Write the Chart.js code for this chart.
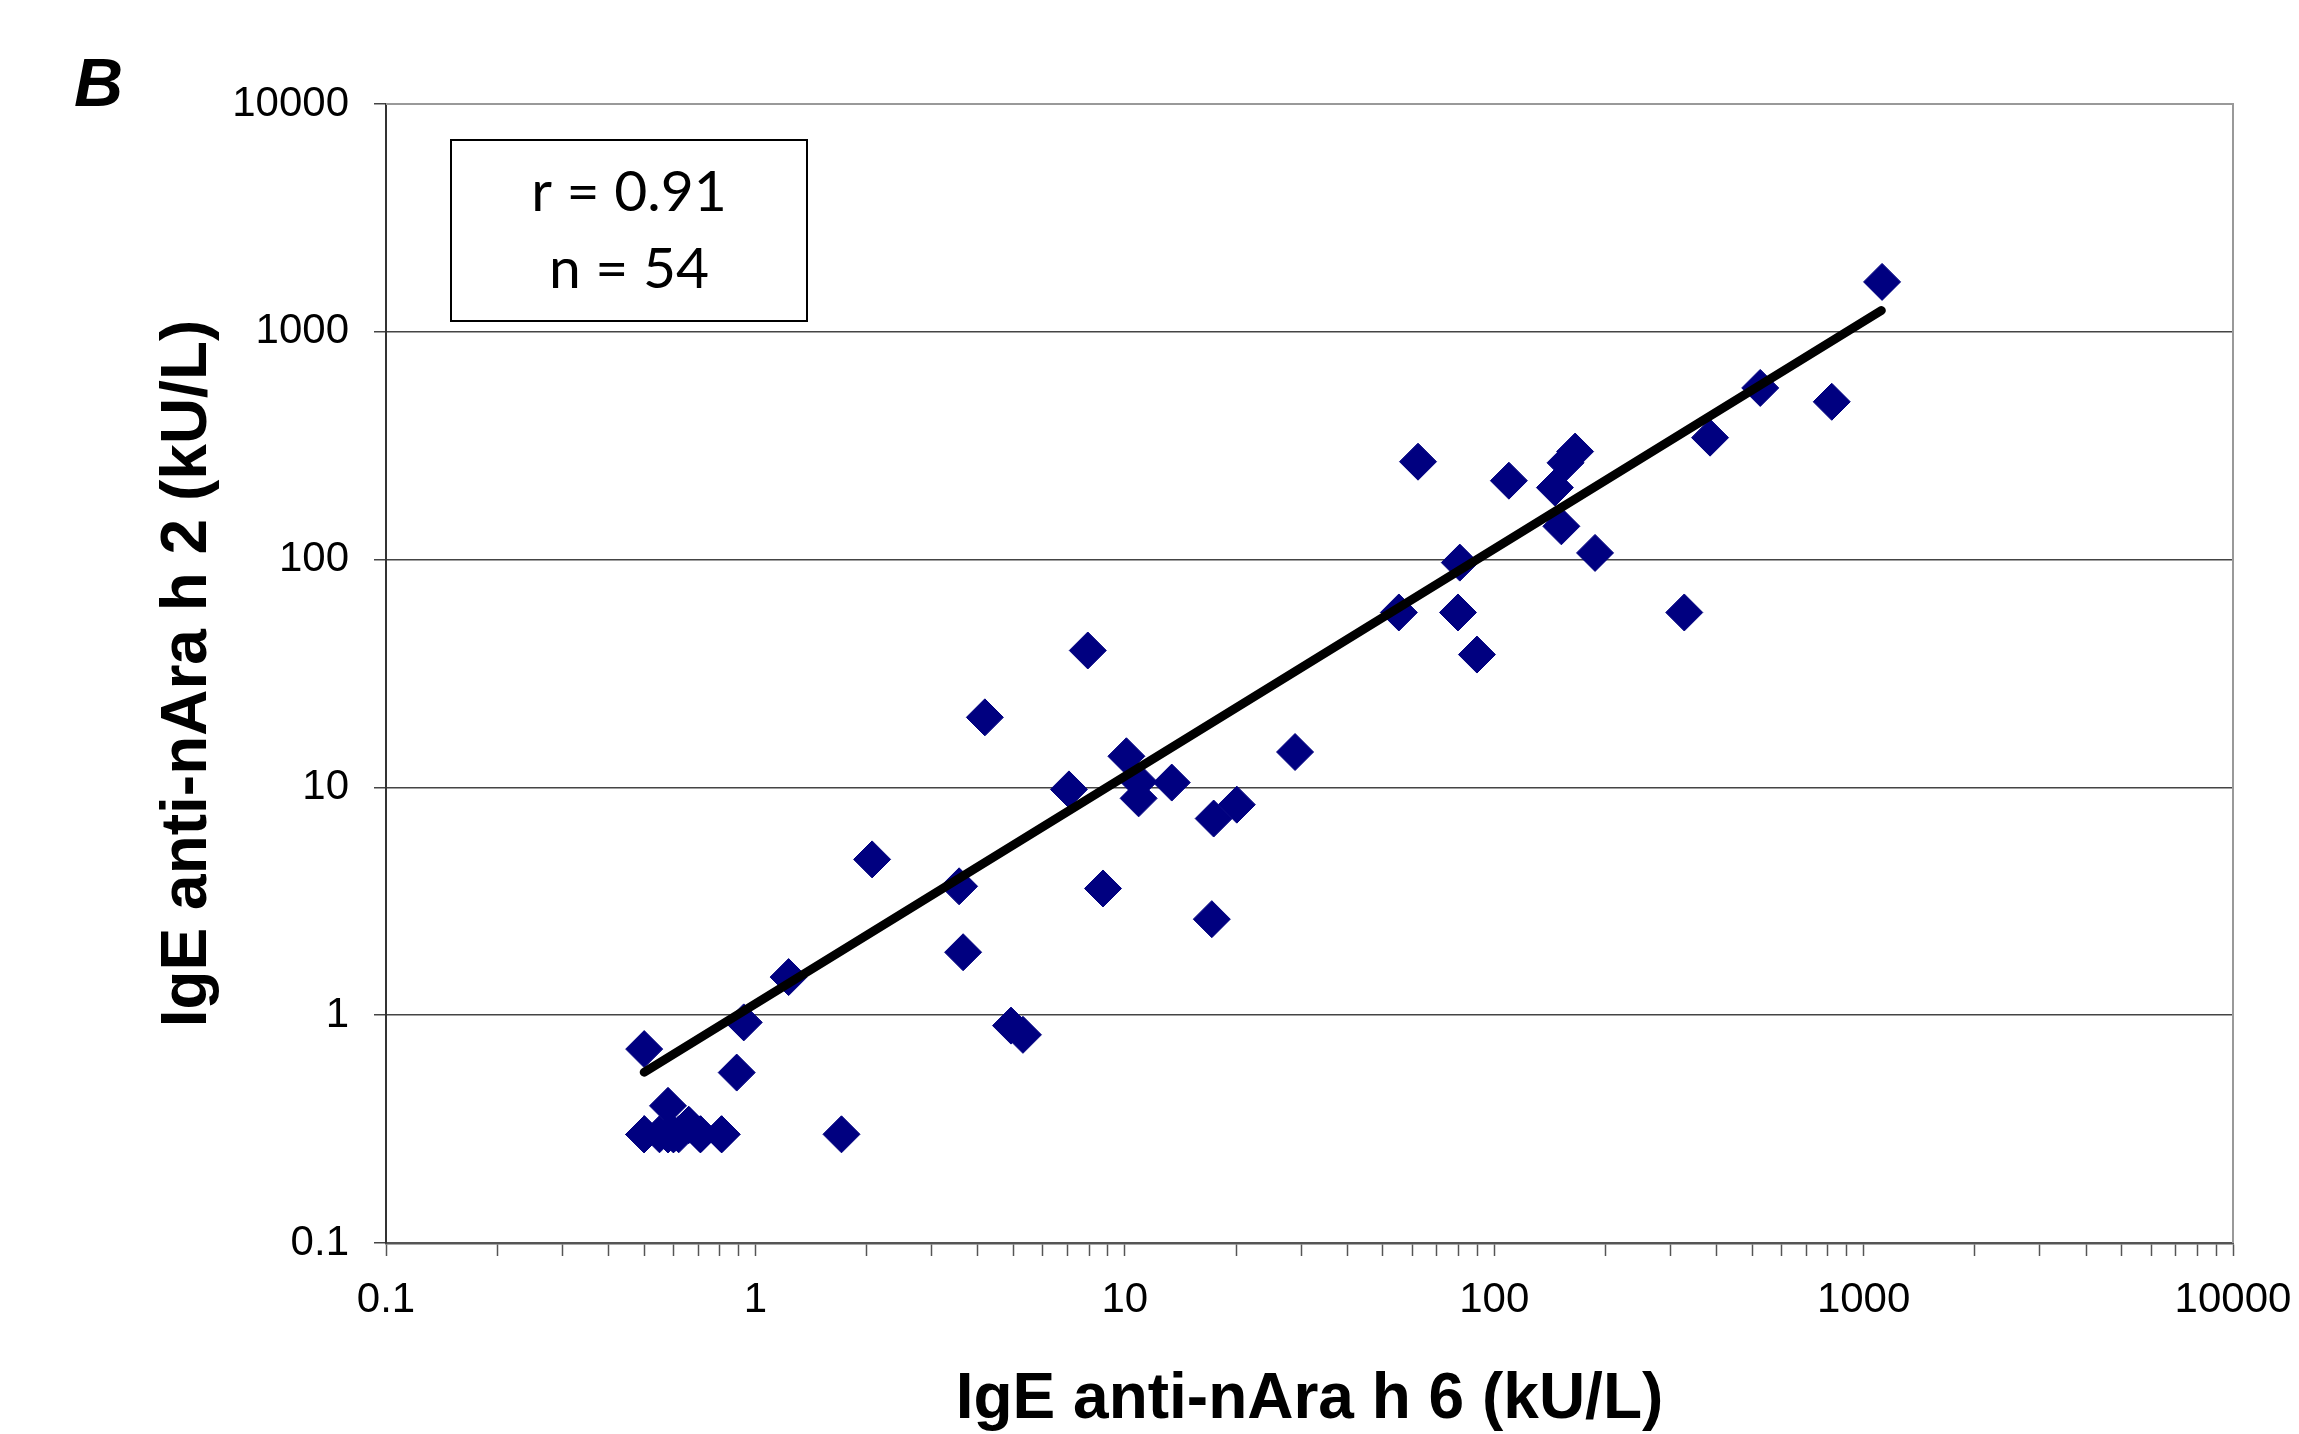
<!DOCTYPE html>
<html>
<head>
<meta charset="utf-8">
<title>IgE anti-nAra h 2 vs anti-nAra h 6</title>
<script src="https://cdn.jsdelivr.net/npm/chart.js@4/dist/chart.umd.min.js"></script>
<style>
  body { margin: 0; background: #fff; }
  canvas { display: block; }
</style>
</head>
<body>
<canvas id="myChart" width="2299" height="1434"></canvas>
<script>
// IgE anti-nAra h 6 (x) against IgE anti-nAra h 2 (y), kU/L
var h6Values = [0.50, 0.89, 0.58, 0.50, 0.58, 0.60, 0.66, 0.71, 0.81, 1.71,
                0.93, 1.23, 4.92, 5.3, 3.65, 2.07, 3.56, 8.73, 17.2, 4.18,
                7.94, 7.06, 10.1, 10.9, 10.9, 13.4, 17.4, 20.1, 28.9, 55.2,
                79.8, 89.8, 80.7, 62.2, 109.6, 165.6, 156, 146, 152, 187.5,
                327, 384, 525, 820, 1122,
                // hidden under the 0.3 cluster
                0.50, 0.58, 0.60, 0.66, 0.71, 0.55, 0.62, 0.50, 0.81];
var h2Values = [0.71, 0.56, 0.40, 0.30, 0.30, 0.30, 0.33, 0.30, 0.30, 0.30,
                0.93, 1.47, 0.90, 0.82, 1.89, 4.83, 3.68, 3.6, 2.64, 20.3,
                39.9, 9.8, 13.7, 10.6, 8.95, 10.5, 7.3, 8.4, 14.3, 58.6,
                58.6, 38.3, 97, 269, 222, 298, 266, 207, 140, 107,
                58.6, 343, 567, 493, 1656,
                0.30, 0.30, 0.30, 0.33, 0.30, 0.30, 0.30, 0.30, 0.30];

// regression line ends
var trendX = [0.5, 1117];
var trendY = [0.562, 1240];

var rValue = "0.91";
var nValue = 54;

var decades = [0.1, 1, 10, 100, 1000, 10000];
var tickLabels = ["0.1", "1", "10", "100", "1000", "10000"];
var minorSteps = [2, 3, 4, 5, 6, 7, 8, 9];

var xTickValues = [];
for (var i = 0; i < decades.length; i++) {
    xTickValues.push(decades[i]);
    if (i < decades.length - 1) {
        for (var j = 0; j < minorSteps.length; j++) {
            xTickValues.push(Number((decades[i] * minorSteps[j]).toPrecision(3)));
        }
    }
}

var points = [];
for (i = 0; i < h6Values.length; i++) {
    points.push({x: h6Values[i], y: h2Values[i]});
}
var trend = [];
for (i = 0; i < trendX.length; i++) {
    trend.push({x: trendX[i], y: trendY[i]});
}

var FONT = "'Liberation Sans', Arial, sans-serif";

function decadeLabel(value) {
    var k = decades.indexOf(value);
    return k >= 0 ? tickLabels[k] : "";
}

// frame, the r/n box and the panel letter
var extras = {
    id: "extras",
    beforeDatasetsDraw: function(chart) {
        var a = chart.chartArea;
        var ctx = chart.ctx;
        ctx.save();
        ctx.strokeStyle = "#999";
        ctx.lineWidth = 2;
        ctx.beginPath();
        ctx.moveTo(a.left, a.top);
        ctx.lineTo(a.right, a.top);
        ctx.lineTo(a.right, a.bottom);
        ctx.stroke();
        ctx.restore();
    },
    afterDraw: function(chart) {
        var ctx = chart.ctx;
        ctx.save();
        // stats box
        ctx.fillStyle = "#fff";
        ctx.fillRect(451, 140, 356, 181);
        ctx.strokeStyle = "#000";
        ctx.lineWidth = 2;
        ctx.strokeRect(451, 140, 356, 181);
        ctx.fillStyle = "#000";
        ctx.font = "57px Lato, 'Open Sans', sans-serif";
        ctx.textAlign = "center";
        ctx.textBaseline = "alphabetic";
        ctx.fillText("r = " + rValue, 629, 211);
        ctx.fillText("n = " + nValue, 629, 288);
        // panel letter
        ctx.font = "italic bold 68px " + FONT;
        ctx.textAlign = "left";
        ctx.fillText("B", 74, 106);
        ctx.restore();
    }
};

new Chart("myChart", {
    data: {
        datasets: [{
            type: "line",
            data: trend,
            borderColor: "#000",
            borderWidth: 9,
            borderCapStyle: "round",
            pointRadius: 0,
            fill: false,
            order: 0
        }, {
            type: "scatter",
            data: points,
            pointStyle: "rectRot",
            pointRadius: 18.5,
            pointBackgroundColor: "#000080",
            pointBorderColor: "#000080",
            pointBorderWidth: 1,
            order: 1
        }]
    },
    options: {
        responsive: false,
        animation: false,
        events: [],
        layout: {padding: {left: 0, top: 104, right: 66, bottom: 0}},
        plugins: {
            legend: {display: false},
            tooltip: {enabled: false}
        },
        scales: {
            x: {
                type: "logarithmic",
                position: "bottom",
                min: 0.1,
                max: 10000,
                afterBuildTicks: function(scale) {
                    scale.ticks = xTickValues.map(function(v) { return {value: v}; });
                },
                afterFit: function(scale) {
                    scale.height = 191;
                    scale.paddingLeft = 0;
                    scale.paddingRight = 0;
                },
                grid: {
                    drawOnChartArea: false,
                    drawTicks: true,
                    tickLength: 13,
                    tickColor: "#555",
                    tickWidth: 1.5
                },
                border: {display: true, color: "#555", width: 2.5},
                ticks: {
                    autoSkip: false,
                    maxRotation: 0,
                    padding: 19,
                    color: "#000",
                    font: {family: FONT, size: 42},
                    callback: function(value) { return decadeLabel(value); }
                },
                title: {
                    display: true,
                    text: "IgE anti-nAra h 6 (kU/L)",
                    color: "#000",
                    font: {family: FONT, size: 64, weight: "bold"},
                    padding: {top: 0, bottom: -5}
                }
            },
            y: {
                type: "logarithmic",
                position: "left",
                min: 0.1,
                max: 10000,
                afterBuildTicks: function(scale) {
                    scale.ticks = decades.map(function(v) { return {value: v}; });
                },
                afterFit: function(scale) {
                    scale.width = 386;
                    scale.paddingTop = 0;
                    scale.paddingBottom = 0;
                },
                grid: {
                    drawOnChartArea: true,
                    drawTicks: true,
                    tickLength: 12,
                    tickColor: "#444",
                    lineWidth: 1.5,
                    color: function(c) {
                        return c.tick && c.tick.value === 10000 ? "#999" : "#444";
                    }
                },
                border: {display: true, color: "#333", width: 2},
                ticks: {
                    autoSkip: false,
                    padding: 25,
                    color: "#000",
                    font: {family: FONT, size: 42},
                    callback: function(value) { return decadeLabel(value); }
                },
                title: {
                    display: true,
                    text: "IgE anti-nAra h 2 (kU/L)",
                    color: "#000",
                    font: {family: FONT, size: 64, weight: "bold"},
                    padding: {top: 150, bottom: 0}
                }
            }
        }
    },
    plugins: [extras]
});
</script>
</body>
</html>
